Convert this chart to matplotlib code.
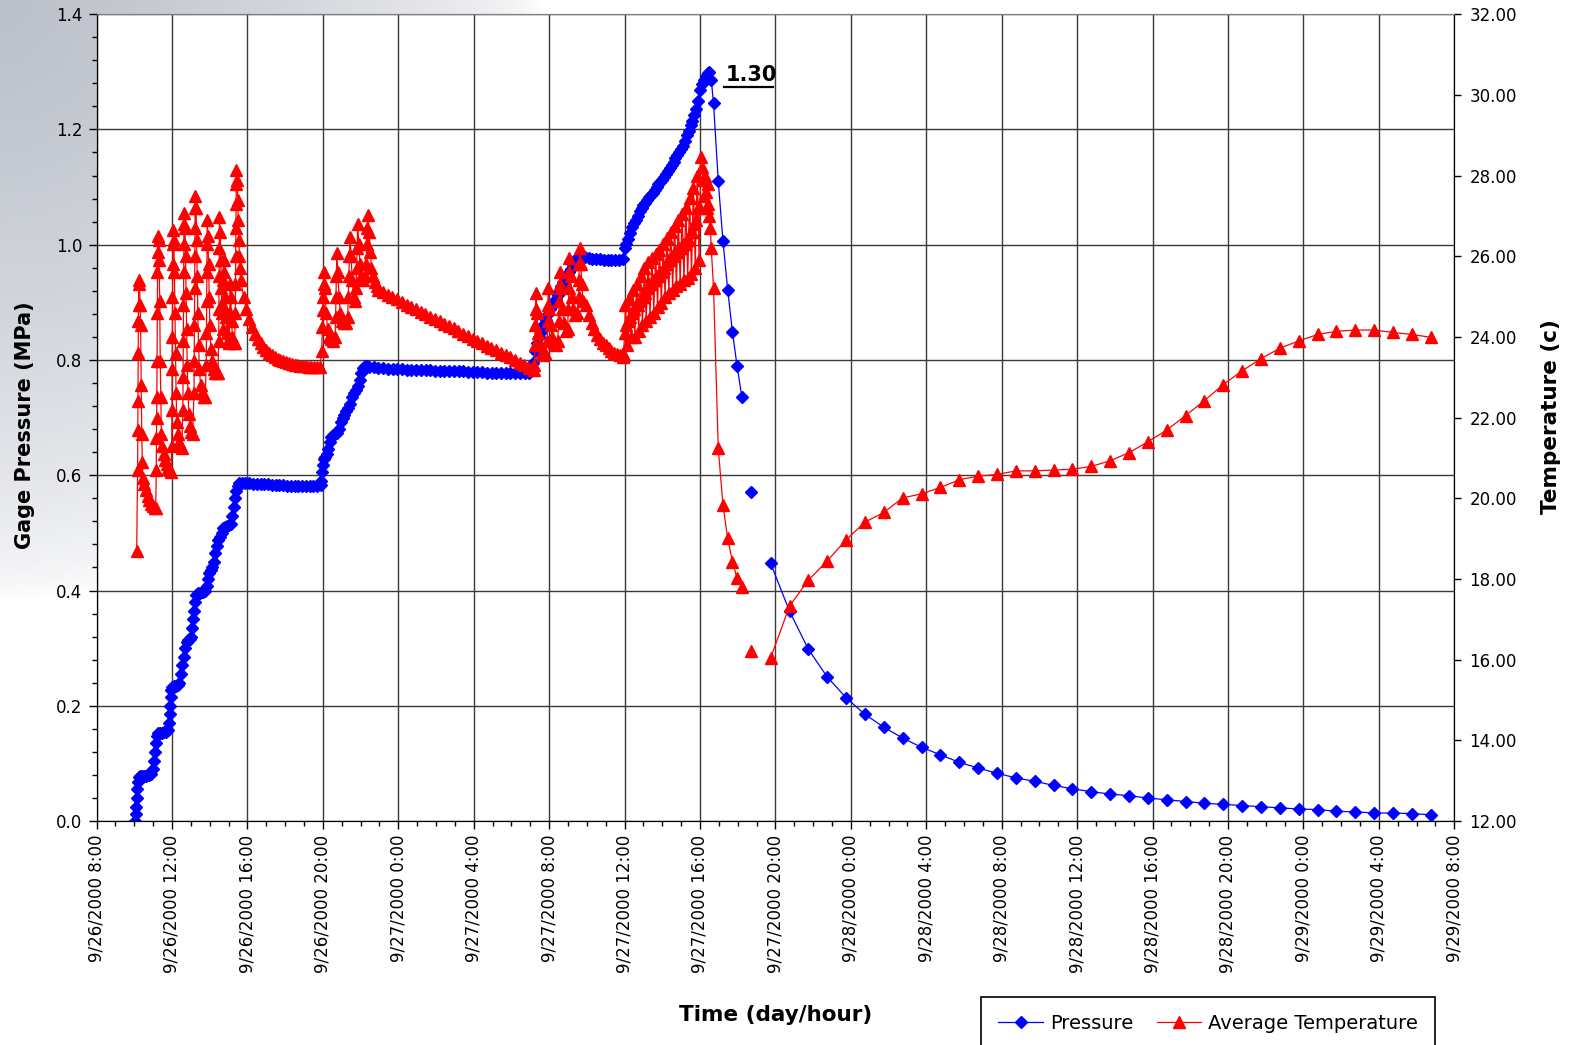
#Presion y temperatura del ensayo (9/26 - 9/29 2000)
import numpy as np
import matplotlib
matplotlib.use("Agg")
import matplotlib.pyplot as plt
from matplotlib.ticker import MultipleLocator, FormatStrFormatter

# eje x: horas despues de 9/26/2000 8:00
x_ticks = list(range(0, 73, 4))
x_labels = ['9/26/2000 8:00', '9/26/2000 12:00', '9/26/2000 16:00', '9/26/2000 20:00',
            '9/27/2000 0:00', '9/27/2000 4:00', '9/27/2000 8:00', '9/27/2000 12:00',
            '9/27/2000 16:00', '9/27/2000 20:00', '9/28/2000 0:00', '9/28/2000 4:00',
            '9/28/2000 8:00', '9/28/2000 12:00', '9/28/2000 16:00', '9/28/2000 20:00',
            '9/29/2000 0:00', '9/29/2000 4:00', '9/29/2000 8:00']
nan = float('nan')

# ---------------- Average Temperature (c) ----------------
# (hora, temperatura) primera etapa de llenado
temp_burst_1 = [
    (2.13, 18.7), (2.18, 20.7), (2.19, 21.7), (2.20, 22.4), (2.21, 23.6), (2.22, 24.4), (2.23, 24.8), (2.24, 25.4),
    (2.28, 25.3), (2.31, 24.8), (2.34, 24.3), (2.37, 22.8), (2.40, 21.6), (2.43, 20.9), (2.47, 20.5), (2.53, 20.35),
    (2.62, 20.2), (2.71, 20.05), (2.80, 19.95), (2.90, 19.85), (3.00, 19.8), (3.08, 19.75), (3.14, 19.75),
    (3.17, 20.7), (3.18, 21.5), (3.19, 22.0), (3.20, 22.5), (3.21, 23.4), (3.22, 24.6), (3.23, 25.6), (3.24, 26.1),
    (3.25, 26.5), (3.29, 26.4), (3.32, 25.9), (3.35, 24.9), (3.38, 23.4), (3.41, 22.5), (3.44, 21.6), (3.49, 21.3),
    (3.56, 21.1), (3.64, 20.95), (3.72, 20.85), (3.80, 20.75), (3.88, 20.7), (3.95, 20.66),
    (3.99, 21.3), (4.00, 22.2), (4.01, 23.2), (4.02, 24.0), (4.03, 25.0), (4.04, 25.8), (4.05, 26.3), (4.06, 26.65),
    (4.10, 26.4), (4.13, 25.6), (4.16, 24.6), (4.19, 23.6), (4.22, 22.6), (4.26, 21.9), (4.31, 21.6), (4.37, 21.4),
    (4.44, 21.3), (4.52, 21.25),
    (4.58, 22.2), (4.59, 23.0), (4.60, 23.9), (4.61, 24.8), (4.62, 25.6), (4.63, 26.3), (4.64, 26.8), (4.65, 27.06),
    (4.69, 26.7), (4.72, 26.0), (4.75, 25.1), (4.78, 24.2), (4.81, 23.3), (4.85, 22.6), (4.90, 22.1), (4.96, 21.8),
    (5.03, 21.65), (5.10, 21.6),
    (5.17, 22.6), (5.18, 23.4), (5.19, 24.3), (5.20, 25.2), (5.21, 26.0), (5.22, 26.7), (5.23, 27.2), (5.24, 27.48),
    (5.28, 27.2), (5.31, 26.4), (5.34, 25.5), (5.37, 24.6), (5.41, 23.8), (5.46, 23.2), (5.52, 22.8), (5.60, 22.6),
    (5.68, 22.5), (5.76, 22.5),
    (5.82, 23.3), (5.83, 24.1), (5.84, 24.9), (5.85, 25.6), (5.86, 26.3), (5.87, 26.9), (5.91, 26.5), (5.94, 25.8),
    (5.97, 25.0), (6.01, 24.3), (6.06, 23.7), (6.13, 23.4), (6.21, 23.2), (6.29, 23.1), (6.37, 23.1), (6.44, 23.1),
    (6.48, 23.9), (6.49, 24.7), (6.50, 25.5), (6.51, 26.2), (6.52, 26.98), (6.56, 26.6), (6.59, 25.9), (6.62, 25.2),
    (6.65, 24.6), (6.69, 24.2),
    (6.72, 24.8), (6.73, 25.4), (6.74, 25.9), (6.78, 25.6), (6.82, 25.0), (6.86, 24.5), (6.91, 24.1), (6.97, 23.9),
    (7.03, 23.85), (7.07, 24.6), (7.08, 25.3), (7.12, 25.0), (7.16, 24.4), (7.21, 24.0), (7.27, 23.85), (7.32, 23.85),
    (7.36, 24.6), (7.37, 25.3), (7.38, 26.0), (7.39, 26.7), (7.40, 27.3), (7.41, 27.8), (7.42, 28.14), (7.46, 27.9),
    (7.49, 27.4), (7.52, 26.9), (7.55, 26.4), (7.58, 26.0), (7.61, 25.7),
]
# cada 0.15 h desde 7.65
temp_decay_1 = [25.4, 25.0, 24.7, 24.45, 24.25, 24.08, 23.95, 23.84, 23.75, 23.67,
                23.61, 23.55, 23.50, 23.46, 23.43, 23.40, 23.37, 23.35, 23.33, 23.31,
                23.30, 23.29, 23.28, 23.27, 23.26, 23.26, 23.25, 23.25, 23.25]
temp_burst_2 = [
    (11.94, 23.64), (11.98, 24.25), (12.00, 24.66), (12.02, 24.99), (12.04, 25.32), (12.06, 25.62), (12.12, 25.2),
    (12.18, 24.6), (12.25, 24.2), (12.35, 24.0), (12.45, 23.95), (12.55, 23.9),
    (12.65, 24.0), (12.68, 24.5), (12.70, 25.0), (12.72, 25.5), (12.74, 26.07), (12.80, 25.6), (12.86, 25.0),
    (12.93, 24.6), (13.02, 24.4), (13.12, 24.34), (13.22, 24.35),
    (13.32, 24.5), (13.35, 25.0), (13.38, 25.5), (13.41, 26.0), (13.44, 26.48), (13.50, 26.0), (13.56, 25.4),
    (13.63, 25.0), (13.70, 24.9),
    (13.76, 25.2), (13.79, 25.7), (13.82, 26.2), (13.85, 26.81), (13.91, 26.3), (13.97, 25.8), (14.04, 25.5),
    (14.12, 25.4), (14.22, 25.5),
    (14.30, 25.8), (14.33, 26.3), (14.36, 26.7), (14.40, 27.02), (14.46, 26.6), (14.52, 26.1), (14.58, 25.7),
    (14.66, 25.5), (14.75, 25.35), (14.85, 25.25),
]
# cada 0.25 h desde 14.94
temp_cooling = [25.16, 25.11, 25.04, 24.98, 24.93, 24.86, 24.80, 24.75, 24.68, 24.62,
                24.57, 24.50, 24.44, 24.39, 24.32, 24.26, 24.21, 24.14, 24.08, 24.03,
                23.96, 23.90, 23.85, 23.78, 23.72, 23.67, 23.60, 23.54, 23.49, 23.42,
                23.36, 23.30, 23.24, 23.18]
temp_burst_3 = [
    (23.22, 23.3), (23.24, 23.8), (23.26, 24.3), (23.28, 24.7), (23.30, 25.1), (23.36, 24.6), (23.42, 24.1),
    (23.50, 23.8), (23.60, 23.6), (23.70, 23.55), (23.80, 23.6), (23.90, 23.9), (23.92, 24.4), (23.94, 24.8),
    (23.96, 25.2), (24.02, 24.7), (24.08, 24.3), (24.16, 24.0), (24.25, 23.85), (24.35, 23.8), (24.45, 23.9),
    (24.52, 24.4), (24.54, 24.9), (24.56, 25.3), (24.58, 25.6), (24.64, 25.2), (24.70, 24.7), (24.78, 24.35),
    (24.88, 24.15), (24.98, 24.2), (25.02, 24.7), (25.04, 25.2), (25.06, 25.6), (25.08, 25.96), (25.14, 25.5),
    (25.20, 25.0), (25.28, 24.7), (25.38, 24.55), (25.48, 24.6), (25.56, 25.0), (25.58, 25.4), (25.60, 25.8),
    (25.62, 26.2), (25.68, 25.8), (25.74, 25.3), (25.80, 24.9),
]
# cada 0.15 h desde 25.95
temp_decay_2 = [24.8, 24.55, 24.35, 24.2, 24.05, 23.95, 23.86, 23.79, 23.72, 23.66, 23.61, 23.57, 23.54, 23.51]
# cada 0.05 h desde 27.95
temp_ramp = [23.55, 24.1, 24.8, 24.3, 23.8, 24.4, 24.95, 24.5, 24.0, 24.6,
             25.15, 24.7, 24.0, 24.8, 25.3, 24.8, 24.15, 24.9, 25.5, 25.0,
             24.3, 25.0, 25.7, 25.1, 24.4, 25.2, 25.85, 25.3, 24.5, 25.3,
             25.95, 25.4, 24.6, 25.4, 26.05, 25.5, 24.75, 25.5, 26.15, 25.6,
             24.85, 25.6, 26.3, 25.7, 25.0, 25.8, 26.45, 25.9, 25.1, 25.9,
             26.6, 26.0, 25.15, 26.0, 26.75, 26.1, 25.25, 26.1, 26.9, 26.2,
             25.3, 26.2, 27.05, 26.3, 25.4, 26.3, 27.2, 26.4, 25.45, 26.4,
             27.45, 26.6, 25.55, 26.6, 27.7, 26.8, 25.7, 26.9, 28.0, 27.2,
             25.9, 27.2, 28.45, 28.2, 27.9, 27.5, 28.0, 27.6, 27.2, 27.8,
             27.3, 27.0, 26.7, 26.2]

# despues del pico: lecturas cada 15 min, luego cada hora
drop_hours = [32.72, 32.97, 33.22, 33.47, 33.72, 33.97, 34.22, 34.47, 34.73, 35.24]
temp_drop = [25.2, 21.24, 19.83, 19.01, 18.43, 18.02, 17.80, nan, 16.22, nan]
press_drop = [1.245, 1.110, 1.006, 0.922, 0.849, 0.789, 0.736, nan, 0.571, nan]

# cada hora desde 35.75
temp_hourly = [16.05, 17.33, 17.97, 18.45, 18.97, 19.41, 19.65, 20.01, 20.11, 20.27,
               20.46, 20.55, 20.59, 20.68, 20.68, 20.70, 20.72, 20.79, 20.93, 21.13,
               21.40, 21.69, 22.05, 22.42, 22.82, 23.16, 23.46, 23.72, 23.90, 24.06,
               24.14, 24.17, 24.17, 24.11, 24.06, 23.99]
press_hourly = [0.447, 0.364, 0.298, 0.250, 0.214, 0.185, 0.163, 0.144, 0.128, 0.115,
                0.102, 0.092, 0.083, 0.075, 0.069, 0.062, 0.056, 0.051, 0.047, 0.044,
                0.040, 0.037, 0.034, 0.031, 0.029, 0.027, 0.025, 0.023, 0.021, 0.020,
                0.017, 0.016, 0.014, 0.014, 0.013, 0.011]

# ---------------- Pressure (MPa) ----------------
press_steps_1 = [
    (2.04, 0.000), (2.07, 0.012), (2.10, 0.025), (2.13, 0.040), (2.16, 0.055), (2.19, 0.068), (2.23, 0.076),
    (2.30, 0.078), (2.40, 0.078), (2.50, 0.079), (2.60, 0.079), (2.70, 0.080), (2.80, 0.080), (2.90, 0.082),
    (2.98, 0.090), (3.04, 0.105), (3.10, 0.120), (3.15, 0.135), (3.20, 0.148), (3.27, 0.152), (3.37, 0.153),
    (3.47, 0.153), (3.57, 0.154), (3.67, 0.155), (3.77, 0.158), (3.84, 0.170), (3.88, 0.185), (3.91, 0.200),
    (3.94, 0.215), (3.97, 0.228), (4.02, 0.233), (4.12, 0.234), (4.22, 0.235), (4.32, 0.236), (4.40, 0.240),
    (4.47, 0.255), (4.54, 0.270), (4.62, 0.285), (4.70, 0.300), (4.78, 0.310), (4.86, 0.314), (4.95, 0.316),
    (5.03, 0.320), (5.09, 0.335), (5.14, 0.350), (5.19, 0.365), (5.24, 0.380), (5.29, 0.392), (5.37, 0.395),
    (5.47, 0.396), (5.57, 0.397), (5.67, 0.398), (5.77, 0.400), (5.85, 0.408), (5.92, 0.420), (5.99, 0.430),
    (6.06, 0.436), (6.14, 0.440), (6.22, 0.450), (6.30, 0.465), (6.38, 0.478), (6.46, 0.487), (6.55, 0.492),
    (6.63, 0.500), (6.72, 0.508), (6.82, 0.511), (6.92, 0.512), (7.02, 0.513), (7.12, 0.516), (7.20, 0.530),
    (7.27, 0.545), (7.34, 0.560), (7.41, 0.572), (7.48, 0.582), (7.56, 0.587),
]
# cada 0.2 h desde 7.7
press_hold_1 = [0.587, 0.586, 0.586, 0.585, 0.585, 0.584, 0.584, 0.584, 0.583, 0.583, 0.583,
                0.583, 0.582, 0.582, 0.582, 0.582, 0.582, 0.582, 0.582, 0.582, 0.582, 0.583]
press_steps_2 = [
    (11.92, 0.590), (11.96, 0.605), (12.00, 0.618), (12.05, 0.628), (12.12, 0.632), (12.20, 0.636), (12.28, 0.645),
    (12.36, 0.658), (12.44, 0.666), (12.55, 0.670), (12.65, 0.671), (12.75, 0.673), (12.85, 0.680), (12.95, 0.692),
    (13.05, 0.700), (13.15, 0.705), (13.25, 0.712), (13.35, 0.716), (13.45, 0.724), (13.55, 0.735), (13.65, 0.742),
    (13.75, 0.748), (13.85, 0.755), (13.95, 0.765), (14.05, 0.778), (14.15, 0.786), (14.25, 0.790), (14.35, 0.789),
]
# cada 0.25 h desde 14.45
press_hold_2 = [0.788, 0.787, 0.786, 0.786, 0.785, 0.785, 0.784, 0.784, 0.783, 0.783,
                0.783, 0.782, 0.782, 0.782, 0.781, 0.781, 0.781, 0.780, 0.780, 0.780,
                0.780, 0.779, 0.779, 0.779, 0.779, 0.778, 0.778, 0.778, 0.778, 0.778,
                0.777, 0.777, 0.777, 0.777, 0.778]
# cada 0.1 h desde 23.05
press_steps_3 = [0.780, 0.795, 0.815, 0.830, 0.840, 0.848, 0.855, 0.862, 0.870, 0.880,
                 0.888, 0.893, 0.898, 0.905, 0.912, 0.920, 0.928, 0.935, 0.942, 0.948,
                 0.952, 0.958, 0.964, 0.970, 0.975, 0.978]
# cada 0.2 h desde 25.7
press_hold_3 = [0.979, 0.978, 0.977, 0.976, 0.975, 0.975, 0.974, 0.974, 0.973, 0.973, 0.973, 0.975]
# cada 0.1 h desde 28.0
press_ramp = [0.995, 1.002, 1.010, 1.020, 1.030, 1.038, 1.043, 1.050, 1.058, 1.064,
              1.068, 1.072, 1.078, 1.082, 1.086, 1.090, 1.095, 1.100, 1.105, 1.108,
              1.112, 1.118, 1.123, 1.128, 1.133, 1.138, 1.143, 1.150, 1.155, 1.160,
              1.166, 1.172, 1.180, 1.190, 1.198, 1.207, 1.215, 1.225, 1.236, 1.250,
              1.268, 1.278, 1.285, 1.292, 1.297, 1.300, 1.285]


def regular(start, step, vals):
    return list(start + step * np.arange(len(vals))), list(vals)


def pairs(lst):
    return [p[0] for p in lst], [p[1] for p in lst]


temp_h, temp_v = [], []
for h, v in [pairs(temp_burst_1), regular(7.65, 0.15, temp_decay_1), pairs(temp_burst_2),
             regular(14.94, 0.25, temp_cooling), pairs(temp_burst_3), regular(25.95, 0.15, temp_decay_2),
             regular(27.95, 0.05, temp_ramp), (drop_hours, temp_drop), regular(35.75, 1.0, temp_hourly)]:
    temp_h += list(h)
    temp_v += list(v)

press_h, press_v = [], []
for h, v in [pairs(press_steps_1), regular(7.7, 0.2, press_hold_1), pairs(press_steps_2),
             regular(14.45, 0.25, press_hold_2), regular(23.05, 0.1, press_steps_3),
             regular(25.7, 0.2, press_hold_3), regular(28.0, 0.1, press_ramp),
             (drop_hours, press_drop), regular(35.75, 1.0, press_hourly)]:
    press_h += list(h)
    press_v += list(v)

W, H = 1576, 1045
fig = plt.figure(figsize=(W / 100, H / 100), dpi=100)

# fondo gris de la diapositiva (esquina superior izquierda)
bg = fig.add_axes([0, 0, 1, 1], zorder=-5)
yy, xx = np.mgrid[0:1:200j, 0:1:300j]
d = np.sqrt((xx * W / 540.0) ** 2 + (yy * H / 600.0) ** 2)
w = np.clip(1 - d, 0, 1) ** 0.6
gray = np.array([186, 191, 201]) / 255.0
img = (1 - w)[..., None] * 1.0 + w[..., None] * gray
bg.imshow(img, extent=[0, 1, 0, 1], aspect='auto', origin='upper')
bg.axis('off')

ax = fig.add_axes([96.5 / W, 1 - 821.1 / H, (1454.3 - 96.5) / W, (821.1 - 14.1) / H])
ax.set_facecolor('white')
ax2 = ax.twinx()

l1, = ax.plot(press_h, press_v, color='#0000ff', lw=0.9, marker='D', ms=6.6,
              mfc='#0000ff', mec='#0000ff', label='Pressure')
l2, = ax2.plot(temp_h, temp_v, color='#ff0000', lw=0.9, marker='^', ms=9,
               mfc='#ff0000', mec='#ff0000', label='Average Temperature')

ax.set_xlim(0, 72)
ax.set_ylim(0, 1.4)
ax2.set_ylim(12, 32)

ax.set_xticks(x_ticks)
ax.set_xticklabels(x_labels, rotation=90, fontsize=12)
ax.xaxis.set_minor_locator(MultipleLocator(1))
ax.yaxis.set_major_locator(MultipleLocator(0.2))
ax.yaxis.set_minor_locator(MultipleLocator(0.04))
ax.yaxis.set_major_formatter(FormatStrFormatter('%.1f'))
ax2.yaxis.set_major_locator(MultipleLocator(2))
ax2.yaxis.set_major_formatter(FormatStrFormatter('%.2f'))

ax.tick_params(axis='both', which='major', direction='out', length=6, width=1, labelsize=12, pad=4)
ax.tick_params(axis='both', which='minor', direction='out', length=3.5, width=1)
ax2.tick_params(axis='y', which='major', direction='out', length=5, width=1, labelsize=12, pad=6)

ax.grid(True, which='major', color='#3a3a3a', lw=1.0)
ax.set_axisbelow(True)
for sp in ['left', 'right', 'bottom']:
    ax.spines[sp].set_color('black')
    ax2.spines[sp].set_color('black')
ax.spines['top'].set_color('#808080')
ax2.spines['top'].set_color('#808080')

# etiqueta del pico
ax.text(33.35, 1.284, '1.30', fontsize=15, fontweight='bold', ha='left', va='baseline')
ax.plot([33.25, 35.85], [1.274, 1.274], color='black', lw=1.6, clip_on=False)

fig.text(25 / 1568, 1 - 423 / 1040, 'Gage Pressure (MPa)', rotation=90, ha='center', va='center',
         fontsize=15, fontweight='bold')
fig.text(1543 / 1568, 1 - 415 / 1040, 'Temperature (c)', rotation=90, ha='center', va='center',
         fontsize=15.5, fontweight='bold')
fig.text(772 / 1568, 1 - 1010 / 1040, 'Time (day/hour)', ha='center', va='center',
         fontsize=15.5, fontweight='bold')

leg = fig.legend([l1, l2], ['Pressure', 'Average Temperature'], loc='upper left',
                 bbox_to_anchor=(976 / 1568, 1 - 992 / 1040), ncol=2, fontsize=14,
                 frameon=True, fancybox=False, edgecolor='black', framealpha=1,
                 borderaxespad=0, handlelength=2.3, handletextpad=0.35, columnspacing=1.2,
                 borderpad=0.9)
leg.get_frame().set_linewidth(1.2)

fig.savefig('out.png', dpi=100)
